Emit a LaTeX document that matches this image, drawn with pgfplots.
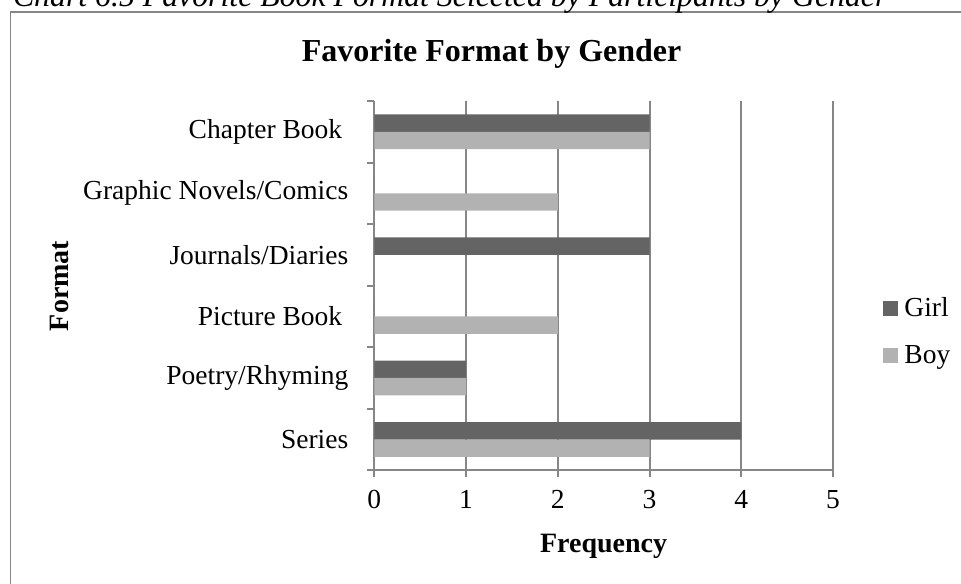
\documentclass[border=0pt]{standalone}
\usepackage{pgfplots}
\pgfplotsset{compat=1.18}
\usepackage{fontspec}
\setmainfont{Liberation Serif}

\definecolor{girlc}{RGB}{100,100,100}
\definecolor{boyc}{RGB}{178,178,178}
\definecolor{axisc}{RGB}{134,134,134}

\begin{document}
\begin{tikzpicture}
\useasboundingbox (0,0) rectangle (480.5pt,291.5pt);

% frame around the chart area
\draw[axisc, line width=0.8pt] (5.3pt,-20pt) rectangle (500pt,285.6pt);

% caption line above the frame
\node[anchor=base west, inner sep=0pt, font=\itshape\fontsize{15.9}{19}\selectfont]
  at (6.3pt,288pt) {Chart 6.5 Favorite Book Format Selected by Participants by Gender};

% chart title
\node[anchor=base, inner sep=0pt, font=\bfseries\fontsize{16}{19}\selectfont]
  at (245.8pt,260.6pt) {Favorite Format by Gender};

\begin{axis}[
  at={(187.15pt,56.35pt)}, anchor=south west,
  scale only axis, width=229.35pt, height=184.65pt,
  xbar, bar width=8.7pt,
  xmin=0, xmax=5, ymin=-0.5, ymax=5.5,
  axis x line*=bottom, axis y line*=left,
  axis line style={axisc, line width=1pt},
  xtick={0,1,2,3,4,5},
  ytick={0,1,2,3,4,5},
  yticklabels={Series, Poetry/Rhyming, Picture Book\kern3pt, Journals/Diaries, Graphic Novels/Comics, Chapter Book\kern3pt},
  minor ytick={-0.5,0.5,1.5,2.5,3.5,4.5,5.5},
  major y tick style={draw=none},
  tick align=outside,
  major tick length=3.5pt, minor tick length=3.5pt,
  tick style={axisc, line width=1pt},
  xmajorgrids, major grid style={axisc, line width=1pt},
  /pgf/number format/assume math mode=true,
  ticklabel style={font=\fontsize{13.75}{16}\selectfont},
  yticklabel style={xshift=-6pt},
  xticklabel style={yshift=-3pt},
  legend style={at={(1.096,0.375)}, anchor=west, draw=none, fill=none,
    font=\fontsize{13.75}{16}\selectfont, row sep=9.75pt,
    nodes={inner sep=1.5pt}},
  legend cell align=left,
  legend image code/.code={\fill[#1] (0pt,-3.75pt) rectangle (7.5pt,3.75pt);},
  legend style={/tikz/every odd column/.append style={column sep=1.5pt}},
]
\addplot[fill=girlc, draw=none, bar shift=4.35pt] coordinates {
  (4,0) (1,1) (0,2) (3,3) (0,4) (3,5)};
\addplot[fill=boyc, draw=none, bar shift=-4.35pt] coordinates {
  (3,0) (1,1) (2,2) (0,3) (2,4) (3,5)};
\legend{Girl, Boy}
\end{axis}

% axis titles
\node[anchor=base, inner sep=0pt, font=\bfseries\fontsize{14}{17}\selectfont]
  at (301.8pt,15.5pt) {Frequency};
\node[rotate=90, inner sep=0pt, font=\bfseries\fontsize{14}{17}\selectfont]
  at (29.5pt,148.5pt) {Format};
\end{tikzpicture}
\end{document}
